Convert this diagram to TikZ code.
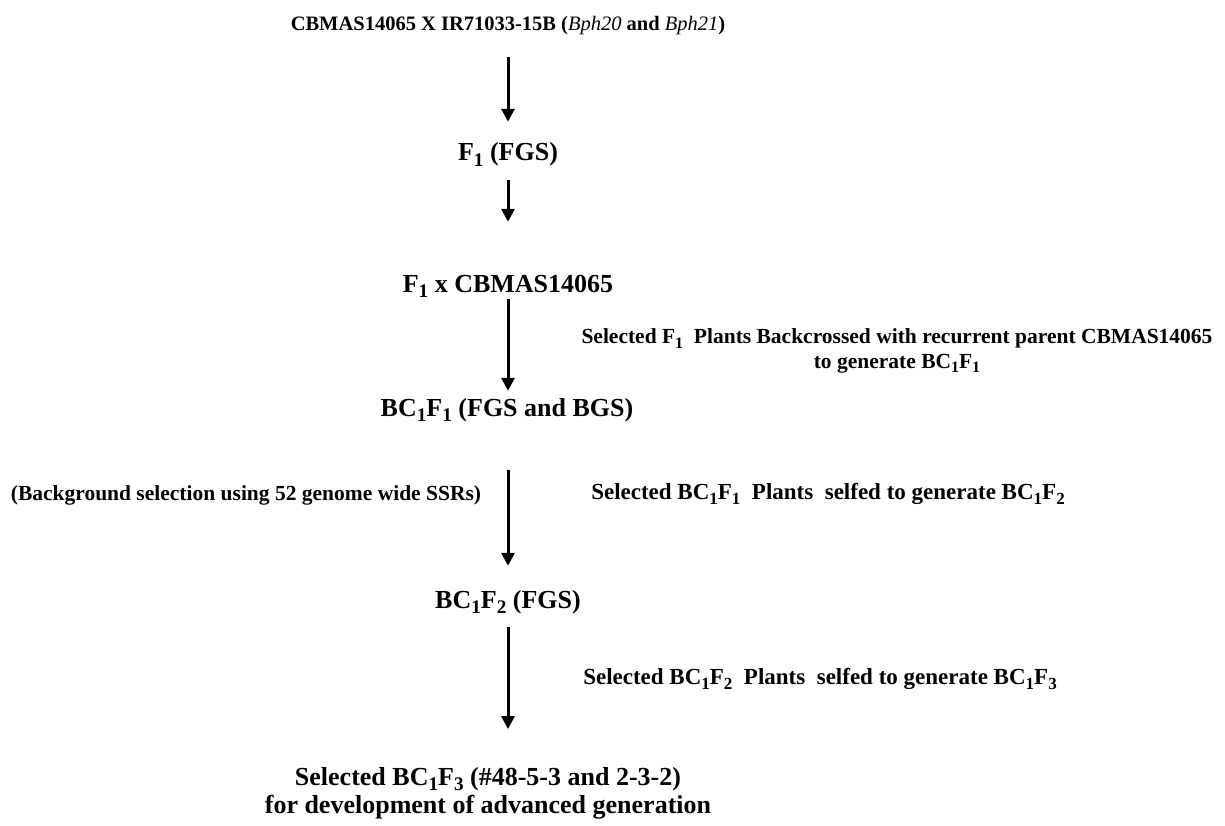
\documentclass[tikz,border=0pt]{standalone}
\usepackage{fontspec}
\setmainfont{Liberation Serif}
\usetikzlibrary{arrows.meta}
\newcommand{\sbs}[1]{\raisebox{-0.2em}{\scalebox{0.74}{#1}}}
\tikzset{
  title/.style={font=\bfseries\fontsize{20.5}{24}\selectfont, inner sep=0pt, text height=14pt, text depth=4pt},
  main/.style={font=\bfseries\fontsize{26}{28}\selectfont, inner sep=0pt, text height=17.5pt, text depth=5.5pt},
  last/.style={font=\bfseries\fontsize{26}{28}\selectfont, inner sep=0pt, align=center},
  side/.style={font=\bfseries\fontsize{21.5}{24.5}\selectfont, inner sep=0pt, align=center},
  sidewide/.style={side, font=\bfseries\fontsize{23}{25}\selectfont},
  flow/.style={line width=3pt, -{Triangle[width=13pt,length=13pt]}},
}
\begin{document}
\begin{tikzpicture}[x=1pt,y=-1pt]
\useasboundingbox[fill=white] (0,0) rectangle (1225,826);
\node[title] (t) at (508,26) {CBMAS14065 X IR71033-15B (\textnormal{\itshape Bph20} and \textnormal{\itshape Bph21})};
\node[main] (f1) at (508,155) {F\sbs{1} (FGS)};
\node[main] (f1x) at (508,286) {F\sbs{1} x CBMAS14065};
\node[main] (bc1) at (507,410) {BC\sbs{1}F\sbs{1} (FGS and BGS)};
\node[main] (bc2) at (508,602) {BC\sbs{1}F\sbs{2} (FGS)};
\node[last, anchor=north] (bc3) at (488,767) {Selected BC\sbs{1}F\sbs{3} (\#48-5-3 and 2-3-2)\\for development of advanced generation};
\node[side] (s1) at (897,351) {Selected F\sbs{1}\ \ Plants Backcrossed with recurrent parent CBMAS14065\\to generate BC\sbs{1}F\sbs{1}};
\node[side] (bg) at (246,495) {(Background selection using 52 genome wide SSRs)};
\node[sidewide] (s2) at (828,494) {Selected BC\sbs{1}F\sbs{1}\ \ Plants\ \ selfed to generate BC\sbs{1}F\sbs{2}};
\node[sidewide] (s3) at (820,679) {Selected BC\sbs{1}F\sbs{2}\ \ Plants\ \ selfed to generate BC\sbs{1}F\sbs{3}};
\draw[flow, shorten <=22pt, shorten >=21.5pt] (t.south -| f1.center) -- (f1.north);
\draw[flow, shorten <=13.5pt, shorten >=52.5pt] (f1.south) -- (f1x.north);
\draw[flow, shorten <=1pt, shorten >=7.5pt] (f1x.south) -- (f1x.south |- bc1.north);
\draw[flow, shorten <=48.5pt, shorten >=24.5pt] (bc1.south -| f1x.south) -- (bc2.north);
\draw[flow, shorten <=13.5pt, shorten >=38pt] (bc2.south) -- (bc2.south |- bc3.north);
\end{tikzpicture}
\end{document}
